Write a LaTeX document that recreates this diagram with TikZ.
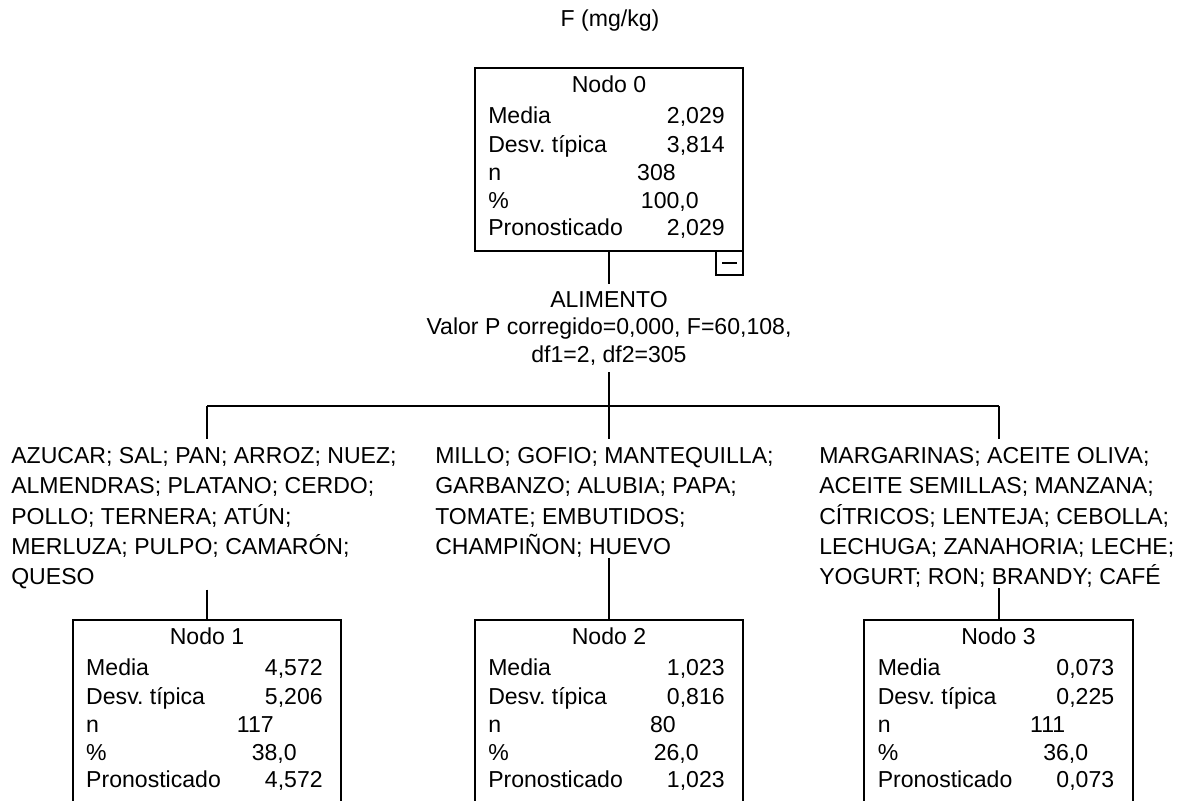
\documentclass[tikz,border=0pt]{standalone}
\usepackage{fontspec}
\setmainfont{Liberation Sans}
\usetikzlibrary{calc, positioning}
\frenchspacing

\tikzset{
  nodobox/.style={draw, line width=0.05cm, minimum width=6.7cm, minimum height=4.575cm, inner sep=0, outer sep=0},
  statlbl/.style={inner sep=0, anchor=base west},
  statval/.style={inner sep=0, anchor=base east},
  cattxt/.style={inner sep=0, anchor=north west, align=left},
  conn/.style={line width=0.05cm},
}

% one box of the tree with its statistics
\newcommand{\nodostats}[9]{%
  \node[nodobox] (#1) at (#2,#3) {};
  \node[inner sep=0, anchor=base] (#1-title) at ($(#1.north)+(0,25)$) {Nodo #4};
  \node[statlbl] (#1-ml) at ($(#1.north west)+(13,56)$) {Media};
  \node[statval] (#1-mv) at ($(#1.north west)+(250,56)$) {#5};
  \node[statlbl] (#1-dl) at ($(#1.north west)+(13,85)$) {Desv. típica};
  \node[statval] (#1-dv) at ($(#1.north west)+(250,85)$) {#6};
  \node[statlbl] (#1-nl) at ($(#1.north west)+(13,113)$) {n};
  \node[statval] (#1-nv) at ($(#1.north west)+(201,113)$) {#7};
  \node[statlbl] (#1-pl) at ($(#1.north west)+(13,141)$) {\%};
  \node[statval] (#1-pv) at ($(#1.north west)+(224,141)$) {#8};
  \node[statlbl] (#1-rl) at ($(#1.north west)+(13,168)$) {Pronosticado};
  \node[statval] (#1-rv) at ($(#1.north west)+(250,168)$) {#9};
}

\begin{document}
\begin{tikzpicture}[x=0.025cm, y=-0.025cm, font=\fontsize{16.4}{21.6}\selectfont]
    \useasboundingbox (0,0) rectangle (1180,801);
    \clip (0,0) rectangle (1180,801);

    % Title
    \node[inner sep=0, anchor=base] (title) at (610,27) {F (mg/kg)};

    % Root node
    \nodostats{n0}{609}{159.5}{0}{2,029}{3,814}{308}{100,0}{2,029}
    \node[draw, line width=0.05cm, minimum width=0.675cm, minimum height=0.6cm, inner sep=0, outer sep=0, anchor=north east] (n0-toggle) at (n0.south east) {};
    \draw[conn] ($(n0-toggle.center)+(-7.5,0)$) -- ($(n0-toggle.center)+(7.5,0)$);

    % Split
    \node[align=center, inner xsep=0, inner ysep=0.175cm, anchor=north, font=\fontsize{16.4}{19.5}\selectfont] (split) at (609,284)
        {ALIMENTO\\Valor P corregido=0,000, F=60,108,\\df1=2, df2=305};
    \coordinate (bar) at (609,406);

    % Categories
    \node[cattxt] (cat1) at (11,447) {AZUCAR; SAL; PAN; ARROZ; NUEZ;\\ALMENDRAS; PLATANO; CERDO;\\POLLO; TERNERA; ATÚN;\\MERLUZA; PULPO; CAMARÓN;\\QUESO};
    \node[cattxt] (cat2) at (435,447) {MILLO; GOFIO; MANTEQUILLA;\\GARBANZO; ALUBIA; PAPA;\\TOMATE; EMBUTIDOS;\\CHAMPIÑON; HUEVO};
    \node[cattxt] (cat3) at (819,447) {MARGARINAS; ACEITE OLIVA;\\ACEITE SEMILLAS; MANZANA;\\CÍTRICOS; LENTEJA; CEBOLLA;\\LECHUGA; ZANAHORIA; LECHE;\\YOGURT; RON; BRANDY; CAFÉ};

    % Child nodes
    \nodostats{n1}{207}{711.5}{1}{4,572}{5,206}{117}{38,0}{4,572}
    \nodostats{n2}{609}{711.5}{2}{1,023}{0,816}{80}{26,0}{1,023}
    \nodostats{n3}{998.5}{711.5}{3}{0,073}{0,225}{111}{36,0}{0,073}

    % Connectors
    \draw[conn] (n0.south) -- (split.north);
    \draw[conn] (split.south) -- (bar);
    \draw[conn] (n1.north |- bar) -- (n3.north |- bar);
    \foreach \k in {1,2,3} {
        \draw[conn, shorten >=0.2cm] (n\k.north |- bar) -- (n\k.north |- cat\k.north);
        \draw[conn] (n\k.north |- cat\k.south) -- (n\k.north);
    }
\end{tikzpicture}
\end{document}
